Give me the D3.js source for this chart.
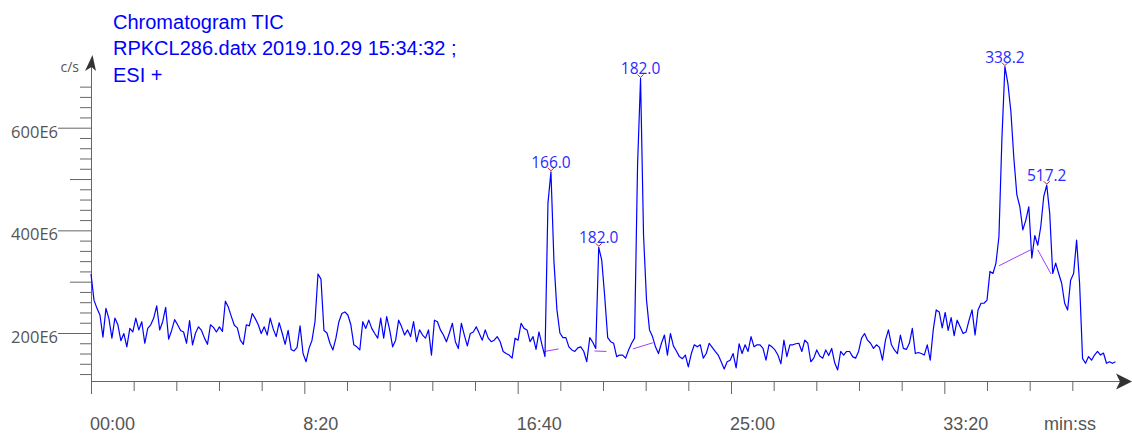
<!DOCTYPE html>
<html><head><meta charset="utf-8">
<script src="https://cdn.jsdelivr.net/npm/d3@7"></script>
<style>html,body{margin:0;padding:0;background:#fff;} svg{display:block}</style>
</head><body>
<svg id="chart" width="1132" height="435"></svg>
<script>
// ---------- data ----------
const titleLines = ["Chromatogram TIC", "RPKCL286.datx 2019.10.29 15:34:32 ;", "ESI +"];
const yUnit = "c/s";
const xUnit = "min:ss";
const sampleStep = 7; // seconds between TIC samples
// TIC intensity, in units of 1E6 counts/s, one value per sample
const ticValues = [
 315,264,248,235,192,248,228,190,229,216,185,199,173,209,
 202,229,206,222,180,209,216,229,253,206,222,250,188,205,226,216,205,
 202,180,224,177,200,212,205,190,178,216,211,202,212,203,262,250,232,215,210,186,
 178,216,214,238,228,216,199,212,196,229,208,193,220,200,178,205,168,165,172,214,
 160,144,170,186,222,315,305,205,200,180,167,190,222,
 238,241,235,216,177,173,167,222,209,225,209,199,190,229,190,232,206,
 173,186,225,212,196,206,193,222,183,206,196,190,206,157,225,222,206,196,183,200,
 219,183,170,219,196,175,199,202,212,199,186,206,190,183,186,193,183,164,160,157,
 151,190,186,219,209,206,183,193,168,202,177,154,453,
 514,340,245,200,191,191,173,167,164,171,173,164,144,191,182,170,367,
 342,271,191,183,180,154,157,157,151,167,180,
 190,527,696,391,264,206,193,173,160,180,196,157,199,175,165,154,
 150,157,134,160,177,173,177,151,160,180,
 172,164,157,144,130,144,147,160,132,179,
 160,177,164,193,173,177,177,170,147,177,
 173,167,157,140,186,154,177,177,179,180,
 164,186,180,144,151,167,155,151,167,156,
 170,142,128,164,157,164,164,154,151,164,
 190,199,186,180,170,177,172,147,186,206,
 177,167,160,196,170,168,180,209,160,162,
 160,157,177,147,206,245,241,
 210,240,205,230,195,225,
 212,199,202,225,245,196,245,258,258,264,320,316,336,388,580,719,686,631,540,469,
 446,401,420,446,346,390,371,407,466,488,433,316,336,316,297,258,245,303,316,381,
 297,150,141,154,147,157,164,157,161,141,144,141,144
];
// detected peaks
const peakTimes  = [1078, 1190, 1288, 2142, 2240];
const peakValues = [514, 367, 696, 719, 488];
const peakLabels = ["166.0", "182.0", "182.0", "338.2", "517.2"];
// integration baselines (start / end of each)
const baseStartT = [1063, 1180, 1270, 2128, 2219];
const baseStartV = [164, 165, 169, 331, 362];
const baseEndT   = [1096, 1208, 1317, 2202, 2250];
const baseEndV   = [169, 164, 181, 362, 315];
// axes
const xMajorTicks  = [0, 500, 1000, 1500, 2000];
const xMajorLabels = ["00:00", "8:20", "16:40", "25:00", "33:20"];
const xMinorTicks  = [100,200,300,400,600,700,800,900,1100,1200,1300,1400,1600,1700,1800,1900,2100,2200,2300];
const yMajorTicks  = [200, 400, 600];
const yMajorLabels = ["200E6", "400E6", "600E6"];
const yMidTicks    = [300, 500];
const yMinorTicks  = [120,140,160,180,220,240,260,280,320,340,360,380,420,440,460,480,520,540,560,580,620,640,660,680];

// ---------- layout ----------
const axisX = 91, axisY = 381;
const svg = d3.select("#chart");
const x = d3.scaleLinear().domain([0, 2400]).range([91, 1115]);
const y = d3.scaleLinear().domain([200, 600]).range([333, 127.7]);
const axisColor = "#666";
const labelFont = "'Liberation Sans', Arial, sans-serif";
const numFont = "'Open Sans', 'Noto Sans', sans-serif";

// title
svg.append("g").selectAll("text").data(titleLines).join("text")
  .attr("x", 113).attr("y", (d, i) => 29 + i * 26.3)
  .attr("fill", "#0000ff").attr("font-family", labelFont).attr("font-size", 20)
  .text(d => d);

// x axis ticks
function styleAxis(g) {
  g.select(".domain").remove();
  g.selectAll(".tick line").attr("stroke", axisColor);
}
svg.append("g").attr("transform", `translate(0,${axisY})`)
  .call(d3.axisBottom(x).tickValues(xMinorTicks).tickSize(10).tickFormat(""))
  .call(styleAxis);
svg.append("g").attr("transform", `translate(0,${axisY})`)
  .call(d3.axisBottom(x).tickValues(xMajorTicks).tickSize(13).tickFormat(""))
  .call(styleAxis);
svg.append("g").selectAll("text").data(xMajorTicks).join("text")
  .attr("x", d => x(d) - 1).attr("y", 430)
  .attr("fill", "#555").attr("font-family", labelFont).attr("font-size", 18)
  .text((d, i) => xMajorLabels[i]);
svg.append("text").attr("x", 1044).attr("y", 430)
  .attr("fill", "#555").attr("font-family", labelFont).attr("font-size", 18)
  .text(xUnit);

// y axis ticks
const yAxisG = svg.append("g").attr("transform", `translate(${axisX},0)`);
yAxisG.append("g").call(d3.axisLeft(y).tickValues(yMinorTicks).tickSize(11).tickFormat("")).call(styleAxis);
yAxisG.append("g").call(d3.axisLeft(y).tickValues(yMidTicks).tickSize(21).tickFormat("")).call(styleAxis);
const yMaj = yAxisG.append("g").call(d3.axisLeft(y).tickValues(yMajorTicks).tickSize(33).tickPadding(0)
   .tickFormat((d, i) => yMajorLabels[i])).call(styleAxis);
yMaj.selectAll(".tick text").attr("fill", "#555").attr("font-family", numFont)
   .attr("font-size", 16.5).attr("dy", "0.58em");
svg.append("text").attr("x", 79).attr("y", 72).attr("text-anchor", "end")
  .attr("fill", "#555").attr("font-family", numFont).attr("font-size", 14).text(yUnit);

// axis lines + arrows
svg.append("line").attr("x1", axisX).attr("x2", 1122).attr("y1", axisY + 0.5).attr("y2", axisY + 0.5)
  .attr("stroke", axisColor);
svg.append("line").attr("x1", axisX + 0.5).attr("x2", axisX + 0.5).attr("y1", axisY + 13).attr("y2", 64)
  .attr("stroke", axisColor);
svg.append("path").attr("d", `M1132,${axisY + 0.5} L1116,${axisY - 7.5} L1120,${axisY + 0.5} L1116,${axisY + 8.5} Z`)
  .attr("fill", "#333");
svg.append("path").attr("d", `M${axisX + 1.5},55 L${axisX - 6},71 L${axisX + 0.5},67 L${axisX + 5},71 Z`)
  .attr("fill", "#333");

// baselines
svg.append("g").selectAll("line").data(baseStartT).join("line")
  .attr("x1", (d) => x(d)).attr("y1", (d, i) => y(baseStartV[i]))
  .attr("x2", (d, i) => x(baseEndT[i])).attr("y2", (d, i) => y(baseEndV[i]))
  .attr("stroke", "#a040ff").attr("stroke-width", 1);

// TIC trace
const line = d3.line().x((d, i) => x(i * sampleStep)).y(d => y(d));
svg.append("path").datum(ticValues).attr("d", line)
  .attr("fill", "none").attr("stroke", "#0000ff").attr("stroke-width", 1.2)
  .attr("stroke-linejoin", "round");

// peak markers + labels
const pk = svg.append("g");
pk.selectAll("path").data(peakTimes).join("path")
  .attr("transform", (d, i) => `translate(${x(d)},${y(peakValues[i])})`)
  .attr("d", "M-3,-4 L0,-1 L3,-4").attr("fill", "none").attr("stroke", "#b02020").attr("stroke-width", 1);
pk.selectAll("text").data(peakTimes).join("text")
  .attr("x", d => x(d)).attr("y", (d, i) => y(peakValues[i]) - 4)
  .attr("text-anchor", "middle").attr("fill", "#2a2aff")
  .attr("font-family", numFont).attr("font-size", 15.5)
  .text((d, i) => peakLabels[i]);
</script>
</body></html>
